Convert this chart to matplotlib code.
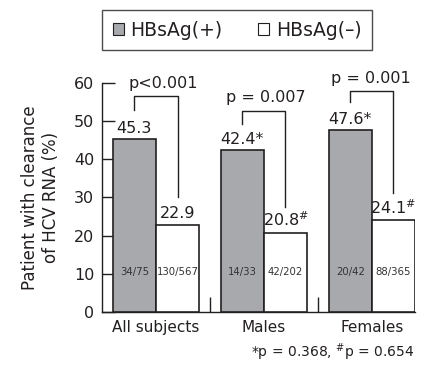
import matplotlib
matplotlib.use("Agg")
import matplotlib.pyplot as plt
from matplotlib.patches import Patch

plt.rcParams['font.family'] = ['DejaVu Sans']
plt.rcParams['mathtext.fontset'] = 'dejavusans'

# ---- data ----
categories = ["All subjects", "Males", "Females"]
pos_values = [45.3, 42.4, 47.6]
neg_values = [22.9, 20.8, 24.1]
pos_labels = ["45.3", "42.4*", "47.6*"]
neg_labels = ["22.9", "20.8$^{\\#}$", "24.1$^{\\#}$"]
pos_counts = ["34/75", "14/33", "20/42"]
neg_counts = ["130/567", "42/202", "88/365"]
p_texts = ["p<0.001", "p = 0.007", "p = 0.001"]
# bracket: top, left-leg bottom, right-leg bottom, text baseline, text x offset
bracket_top = [56.7, 52.6, 58.0]
bracket_left_bottom = [53.0, 49.3, 54.9]
bracket_right_bottom = [30.1, 27.6, 31.2]
p_text_y = [58.8, 54.9, 60.1]
p_text_dx = [0.065, 0.02, -0.01]
legend_labels = ["HBsAg(+)", "HBsAg(\u2013)"]
yticks = [0, 10, 20, 30, 40, 50, 60]
footnote = "*p = 0.368, $^{\\#}$p = 0.654"

DARK = "#231f20"
GREY = "#a7a9ac"

fig = plt.figure(figsize=(4.22, 3.66), dpi=100)
ax = fig.add_axes([102/422, 54/366, 313/422, 229/366])

x = list(range(len(categories)))
w = 0.4
ax.bar([i - w/2 for i in x], pos_values, width=w, color=GREY, edgecolor=DARK,
       linewidth=1.2, zorder=3)
ax.bar([i + w/2 for i in x], neg_values, width=w, color="white", edgecolor=DARK,
       linewidth=1.2, zorder=3)

for i in x:
    ax.annotate(pos_labels[i], (i - w/2, pos_values[i]), xytext=(0, 4.5),
                textcoords="offset points", ha="center", va="baseline",
                fontsize=11.5, color=DARK, zorder=5)
    ax.annotate(neg_labels[i], (i + w/2, neg_values[i]), xytext=(0, 4.5),
                textcoords="offset points", ha="center", va="baseline",
                fontsize=11.5, color=DARK, zorder=5)
    ax.text(i - w/2, 10.5, pos_counts[i], ha="center", va="center",
            fontsize=7.3, color="#333333", zorder=5)
    ax.text(i + w/2, 10.5, neg_counts[i], ha="center", va="center",
            fontsize=7.3, color="#333333", zorder=5)
    # bracket
    xl, xr = i - w/2, i + w/2
    ax.plot([xl, xl, xr, xr],
            [bracket_left_bottom[i], bracket_top[i], bracket_top[i], bracket_right_bottom[i]],
            color=DARK, linewidth=1.0, zorder=4, clip_on=False)
    ax.text(i + p_text_dx[i], p_text_y[i], p_texts[i], ha="center", va="baseline",
            fontsize=11.5, color=DARK, zorder=5, clip_on=False)

ax.set_xlim(-0.5, 2.4)
ax.set_ylim(0, 60)
ax.set_yticks(yticks)
ax.set_xticks(x)
ax.set_xticklabels(categories, fontsize=11, color=DARK)
ax.set_xticks([0.5, 1.5], minor=True)
ax.tick_params(axis="x", which="major", length=0, pad=6)
ax.tick_params(axis="x", which="minor", direction="in", length=10.8, width=1.0,
               color=DARK)
ax.tick_params(axis="y", direction="in", length=9.5, width=1.0, color=DARK,
               labelsize=11.5, labelcolor=DARK, pad=5.5)

for s in ["top", "right"]:
    ax.spines[s].set_visible(False)
for s in ["left", "bottom"]:
    ax.spines[s].set_color(DARK)
    ax.spines[s].set_linewidth(1.0)

ax.set_ylabel("Patient with clearance\nof HCV RNA (%)", fontsize=12,
              color=DARK, labelpad=10, linespacing=1.2)

handles = [Patch(facecolor=GREY, edgecolor=DARK, linewidth=0.8),
           Patch(facecolor="white", edgecolor=DARK, linewidth=0.8)]
leg = fig.legend(handles, legend_labels, loc="center",
                 bbox_to_anchor=(237/422, (366-30)/366), ncol=2, fontsize=13.5,
                 frameon=True, fancybox=False, edgecolor=DARK,
                 handlelength=0.6, handleheight=0.6, handletextpad=0.35,
                 columnspacing=1.9, borderpad=0.55, borderaxespad=0,
                 labelcolor=DARK)
leg.get_frame().set_linewidth(1.0)

fig.text(415/422, 3/366, footnote, ha="right", va="bottom",
         fontsize=10, color=DARK)

fig.savefig("out.png", dpi=100)
